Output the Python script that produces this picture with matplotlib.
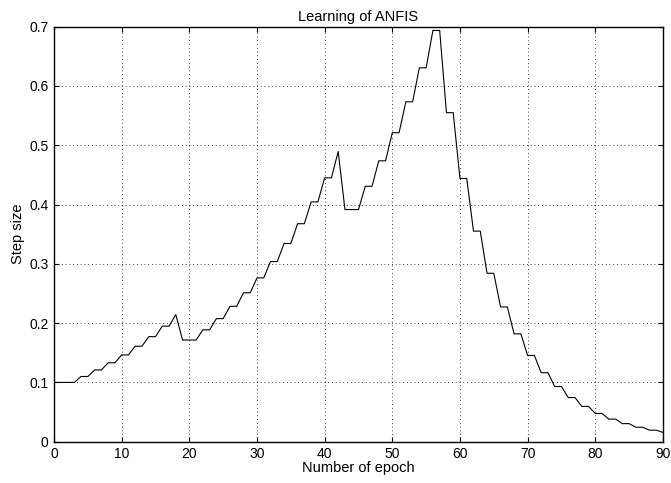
import numpy as np
import matplotlib
matplotlib.use("Agg")
import matplotlib.pyplot as plt

# step size, one value per epoch (0..90)
epochs = np.arange(0, 91)
step_size = [
    0.1000, 0.1000, 0.1000, 0.1000, 0.1100, 0.1100, 0.1210, 0.1210, 0.1331, 0.1331,
    0.1464, 0.1464, 0.1611, 0.1611, 0.1772, 0.1772, 0.1949, 0.1949, 0.2144, 0.1715,
    0.1715, 0.1715, 0.1887, 0.1887, 0.2076, 0.2076, 0.2283, 0.2283, 0.2512, 0.2512,
    0.2763, 0.2763, 0.3039, 0.3039, 0.3343, 0.3343, 0.3677, 0.3677, 0.4045, 0.4045,
    0.4450, 0.4450, 0.4895, 0.3916, 0.3916, 0.3916, 0.4308, 0.4308, 0.4738, 0.4738,
    0.5212, 0.5212, 0.5733, 0.5733, 0.6307, 0.6307, 0.6937, 0.6937, 0.5550, 0.5550,
    0.4440, 0.4440, 0.3552, 0.3552, 0.2841, 0.2841, 0.2273, 0.2273, 0.1819, 0.1819,
    0.1455, 0.1455, 0.1164, 0.1164, 0.0931, 0.0931, 0.0745, 0.0745, 0.0596, 0.0596,
    0.0477, 0.0477, 0.0381, 0.0381, 0.0305, 0.0305, 0.0244, 0.0244, 0.0195, 0.0195,
    0.0156,
]
x_ticks = [0, 10, 20, 30, 40, 50, 60, 70, 80, 90]
y_ticks = [0, 0.1, 0.2, 0.3, 0.4, 0.5, 0.6, 0.7]
y_tick_labels = ["0", "0.1", "0.2", "0.3", "0.4", "0.5", "0.6", "0.7"]

plt.rcParams["font.family"] = ["Liberation Sans", "DejaVu Sans"]
plt.rcParams["font.size"] = 10

fig = plt.figure(figsize=(6.71, 4.83), dpi=100)
ax = fig.add_axes([0.0805, 0.0855, 0.9075, 0.8592])

ax.plot(epochs, step_size, color="black", linewidth=0.8)

ax.set_xlim(0, 90)
ax.set_ylim(0, 0.7)
ax.set_xticks(x_ticks)
ax.set_yticks(y_ticks)
ax.set_yticklabels(y_tick_labels)

# matlab look: boxed axes, inward ticks on all four sides, dotted grid
ax.grid(True, linestyle=(0, (1, 3.5)), color="black", linewidth=0.6)
ax.tick_params(direction="in", top=True, right=True, length=3.5, width=0.8, pad=4,
               labelsize=10)
for s in ax.spines.values():
    s.set_linewidth(1.0)

ax.set_title("Learning of ANFIS", fontsize=10.5, pad=4)
ax.set_xlabel("Number of epoch", fontsize=10.5, labelpad=0)
ax.set_ylabel("Step size", fontsize=10.5, labelpad=3)

fig.savefig("out.png", dpi=100)
